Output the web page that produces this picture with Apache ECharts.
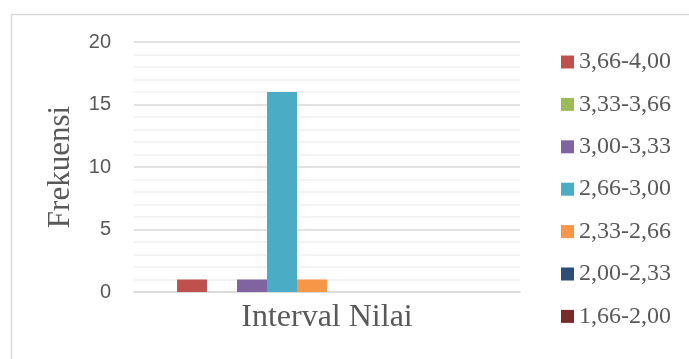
<!DOCTYPE html>
<html>
<head>
<meta charset="utf-8">
<script src="https://cdn.jsdelivr.net/npm/echarts@6/dist/echarts.min.js"></script>
<style>
  html, body { margin: 0; padding: 0; background: #fff; }
  #chart { width: 689px; height: 359px; }
</style>
</head>
<body>
<div id="chart"></div>
<script>
// one category, one series per score interval
// (the last three intervals are cut off the legend in the original, all zero)
var categories = ["Interval Nilai"];
var seriesNames = ["3,66-4,00", "3,33-3,66", "3,00-3,33", "2,66-3,00", "2,33-2,66", "2,00-2,33", "1,66-2,00", "1,33-1,66", "1,00-1,33", "0,00-1,00"];
var seriesValues = [1, 0, 1, 16, 1, 0, 0, 0, 0, 0];
var seriesColors = ["#c0504d", "#9bbb59", "#8064a2", "#4bacc6", "#f79646", "#2c4d75", "#772c2a", "#5f7530", "#4d3b62", "#276a7c"];
var legendShown = seriesNames.slice(0, 7);

var myChart = echarts.init(document.getElementById('chart'));

var series = seriesNames.map(function (name, i) {
    return {
        name: name,
        type: "bar",
        data: [seriesValues[i]],
        itemStyle: { color: seriesColors[i] },
        barGap: "0%",
        barCategoryGap: "22.3%"
    };
});

var option = {
    animation: false,
    backgroundColor: "#fff",
    graphic: [
        {
            type: "rect",
            left: 9,
            top: 12,
            shape: { width: 700, height: 400 },
            style: { fill: "none", stroke: "#d9d9d9", lineWidth: 1.5 },
            silent: true
        }
    ],
    grid: {
        left: 134,
        right: 169,
        top: 42,
        bottom: 67
    },
    legend: {
        orient: "vertical",
        left: 561,
        top: 50,
        padding: 0,
        itemWidth: 13,
        itemHeight: 13,
        itemGap: 18.4,
        icon: "rect",
        textStyle: {
            fontFamily: "Liberation Serif",
            fontSize: 24,
            color: "#595959"
        },
        data: legendShown
    },
    xAxis: {
        type: "category",
        data: categories,
        name: "Interval Nilai",
        nameLocation: "middle",
        nameGap: 10,
        nameTextStyle: {
            fontFamily: "Liberation Serif",
            fontSize: 32,
            color: "#595959"
        },
        axisLabel: { show: false },
        axisTick: { show: false },
        axisLine: { lineStyle: { color: "#d9d9d9", width: 1.5 } }
    },
    yAxis: {
        type: "value",
        min: 0,
        max: 20,
        interval: 5,
        name: "Frekuensi",
        nameLocation: "middle",
        nameRotate: 90,
        nameGap: 58,
        nameTextStyle: {
            fontFamily: "Liberation Serif",
            fontSize: 31,
            color: "#595959"
        },
        axisLabel: {
            margin: 23,
            fontFamily: "Liberation Sans",
            fontSize: 20,
            color: "#595959"
        },
        axisLine: { show: false },
        axisTick: { show: false },
        splitLine: { lineStyle: { color: "#d9d9d9", width: 1.5 } },
        minorTick: { show: false, splitNumber: 5 },
        minorSplitLine: { show: true, lineStyle: { color: "#f0f0f0", width: 1.5 } }
    },
    series: series
};
myChart.setOption(option);
</script>
</body>
</html>
